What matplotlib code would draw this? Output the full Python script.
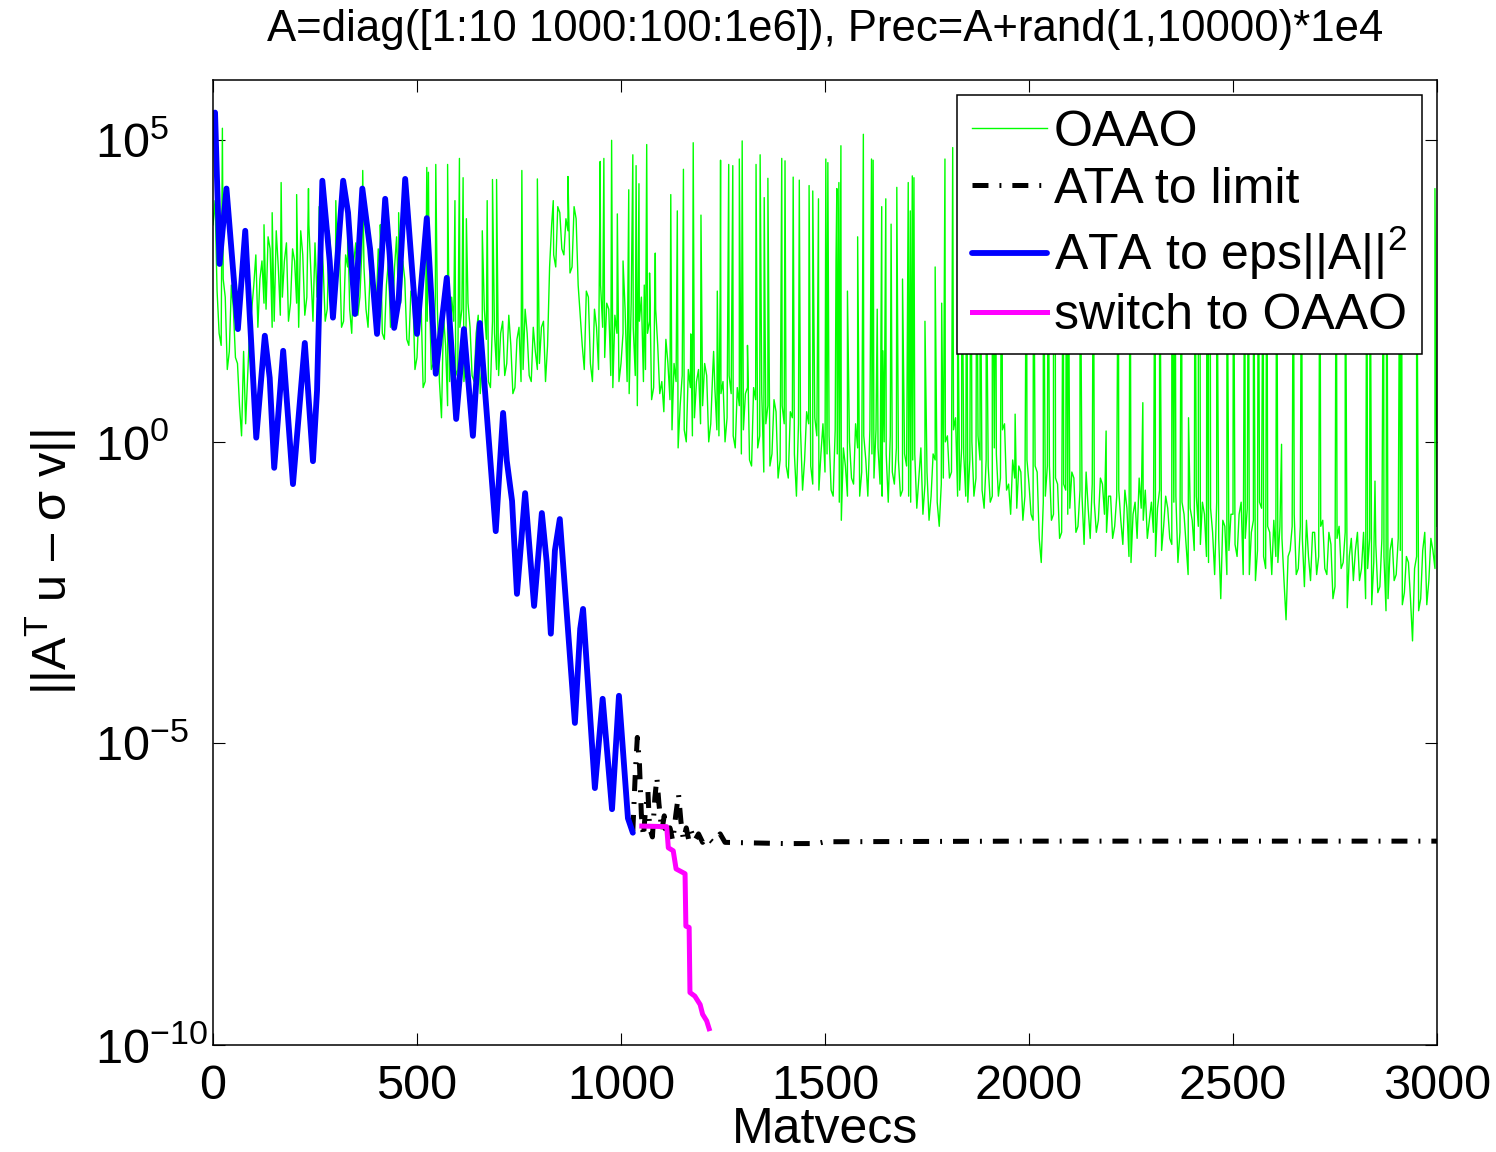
import numpy as np
import matplotlib
matplotlib.use("Agg")
import matplotlib.pyplot as plt

plt.rcParams['font.family'] = ['Liberation Sans', 'DejaVu Sans']
plt.rcParams['mathtext.fontset'] = 'custom'
plt.rcParams['mathtext.rm'] = 'Liberation Sans'
plt.rcParams['mathtext.it'] = 'Liberation Sans:italic'
plt.rcParams['lines.scale_dashes'] = False

# OAAO residual, log10 values read every 10 matvecs (0..3000)
oaao_step = 10
oaao_log = [
    3.6, 2.5, 1.6, 2.4, 1.5, 2.2, 1.3, 0.1, 0.3, 1.9,
    2.6, 1.9, 3.0, 2.2, 3.2, 2.0, 2.9, 2.4, 3.3, 2.3,
    3.0, 1.9, 3.1, 2.4, 2.8, 3.3, 2.5, 2.9, 2.2, 3.0,
    2.3, 3.2, 2.0, 2.9, 1.8, 3.3, 2.4, 2.9, 1.9, 3.1,
    2.2, 2.8, 1.7, 3.0, 2.0, 3.4, 2.3, 2.7, 1.6, 2.4,
    1.4, 2.3, 1.0, 2.6, 1.3, 2.2, 0.4, 1.6, 1.0, 2.0,
    1.2, 2.2, 1.4, 1.9, 1.0, 2.1, 1.3, 1.7, 0.9, 1.8,
    1.1, 2.0, 1.3, 1.6, 0.9, 1.9, 1.2, 1.8, 1.0, 1.5,
    1.3, 2.0, 1.6, 3.6, 2.9, 3.8, 3.1, 3.5, 2.9, 3.7,
    2.1, 1.2, 2.4, 1.0, 1.9, 2.6, 1.4, 2.2, 0.9, 1.8,
    1.3, 2.2, 0.8, 1.9, 0.6, 2.4, 1.2, 2.0, 0.9, 1.6,
    1.0, 1.7, 0.7, 1.3, -0.1, 1.1, 0.0, 0.9, 0.4, 1.2,
    0.6, 1.1, 0.3, 0.9, 0.1, 1.0, 0.4, 0.8, -0.1, 0.6,
    0.2, 0.9, -0.4, 0.7, 0.1, -0.5, 0.6, -0.2, 0.5, -0.3,
    0.3, -0.6, 0.4, -0.9, 0.2, -0.3, 0.3, -0.7, 0.1, -0.2,
    -0.5, 0.1, -0.9, -0.2, -1.3, -0.4, 0.0, -0.7, -0.1, -0.5,
    -0.3, 0.2, -0.6, -0.1, -0.9, -0.2, 0.1, -0.7, -0.3, -0.8,
    -0.4, -1.0, -0.2, -0.6, -1.2, -0.5, -0.9, -0.3, -1.4, -0.6,
    0.1, -0.5, 0.4, -0.8, -0.2, -1.0, 0.0, -0.6, -0.3, -1.1,
    -0.4, -0.9, -0.2, -0.6, 0.3, -0.7, -0.3, -1.1, -0.5, -0.9,
    -0.7, -1.3, -0.5, -2.0, -0.9, -0.4, -1.2, -0.7, -1.5, -0.8,
    -1.1, -0.6, -1.4, -0.9, -0.5, -1.6, -1.0, -1.3, -0.7, -1.5,
    -0.9, -1.4, -0.8, -1.7, -1.1, -2.0, -1.0, -0.6, -1.3, -1.6,
    -1.0, -1.9, -0.8, -1.4, -1.1, -1.7, -0.9, -1.5, -1.2, -2.2,
    -1.3, -0.9, -1.7, -1.2, -2.0, -1.5, -1.0, -2.6, -1.4, -1.8,
    -1.2, -1.9, -1.0, -1.6, -2.2, -1.3, -1.8, -1.1, -2.1, -1.5,
    -1.3, -2.0, -1.6, -2.95, -1.8, -1.2, -2.1, -1.6, -1.3, -2.3,
    -1.5, -1.9, -1.3, -2.2, -1.7, -2.4, -1.4, -2.0, -2.75, -1.6,
    -1.8, -2.3, -1.5, -2.1, -2.7, -1.7, -2.4, -1.9, -2.6, -1.6,
    -2.2, -1.8, -2.5, -2.0, -3.3, -1.9, -2.6, -1.5, -2.3, -1.8,
    -1.4,
]
# OAAO values in between, at 5, 15, 25, ... 2995 matvecs
oaao_log_mid = [
    4.0, 1.8, 2.7, 1.2, 2.6, 1.4, 0.6, 1.5, 1.1, 2.2,
    3.1, 2.7, 2.3, 3.4, 1.9, 3.5, 2.1, 3.0, 2.0, 3.2,
    2.3, 3.5, 2.1, 3.6, 2.0, 2.4, 3.4, 2.0, 3.5, 2.1,
    2.8, 1.9, 3.1, 2.2, 3.0, 2.1, 3.2, 2.2, 2.8, 2.1,
    3.2, 1.8, 2.6, 1.9, 2.9, 2.2, 3.0, 1.7, 2.5, 1.2,
    2.2, 0.9, 2.0, 1.2, 2.4, 1.0, 2.1, 0.6, 2.4, 1.1,
    1.9, 1.0, 2.3, 1.1, 1.8, 0.8, 2.2, 1.0, 2.0, 1.2,
    1.8, 1.1, 2.1, 0.8, 1.7, 1.0, 2.2, 1.1, 1.9, 1.2,
    1.9, 1.0, 2.9, 3.1, 3.9, 3.2, 3.7, 2.8, 3.9, 2.6,
    1.6, 2.5, 1.3, 2.2, 1.2, 1.9, 2.3, 1.1, 2.1, 1.0,
    1.8, 1.0, 2.3, 1.1, 2.0, 1.0, 1.8, 0.7, 2.2, 0.8,
    0.5, 1.3, 0.2, 1.0, 0.6, 0.2, 1.2, 0.1, 1.0, 0.3,
    1.3, 0.0, 1.2, 0.2, 0.8, 0.0, 1.1, 0.1, 0.9, -0.2,
    0.8, -0.3, 0.9, -0.1, 0.8, 0.3, -0.4, 0.7, -0.6, 0.6,
    -0.4, 0.5, -0.2, 0.3, -0.8, 0.5, -0.4, 0.4, -0.8, 0.3,
    -0.2, -0.8, 0.2, -1.0, -0.1, -0.9, -0.6, 0.3, -0.9, 0.1,
    -0.9, -0.2, 0.2, -0.7, 0.0, -1.0, -0.5, -0.1, -0.9, -0.2,
    -0.9, -0.3, -1.1, -0.1, -0.7, -1.3, -0.2, -1.0, -0.7, 0.0,
    -0.6, 0.2, -0.9, -0.1, -0.9, -0.3, -0.9, 0.1, -0.8, -0.3,
    -1.0, -0.1, -0.9, 0.2, -0.8, -1.2, -0.6, -0.4, -1.3, -0.3,
    -1.2, -0.4, -1.6, -1.0, -0.4, -1.3, -0.6, -1.6, -0.7, -1.2,
    -0.5, -1.5, -0.8, -1.7, -1.1, -0.7, -1.5, -0.6, -1.2, -0.9,
    -1.6, -0.9, -1.3, -0.8, -1.9, -1.2, -1.6, -1.1, -0.8, -1.3,
    -1.5, -1.1, -1.8, -0.9, -1.6, -1.0, -2.0, -1.0, -1.7, -1.1,
    -1.8, -1.4, -1.0, -1.9, -1.1, -2.2, -1.6, -1.3, -2.2, -1.2,
    -1.7, -1.2, -2.2, -1.1, -1.5, -2.3, -1.0, -1.9, -1.4, -2.2,
    -1.9, -1.4, -2.3, -1.9, -1.4, -2.2, -1.4, -2.4, -1.9, -1.5,
    -2.2, -1.4, -2.1, -1.5, -2.6, -1.6, -2.1, -1.5, -1.9, -2.3,
    -1.5, -2.1, -2.6, -1.6, -2.0, -2.5, -1.6, -2.8, -1.8, -2.3,
    -1.6, -2.7, -1.9, -2.6, -2.1, -2.8, -1.8, -2.7, -1.6, -2.1,
]

# isolated OAAO spikes (matvec, log10)
spike_mv = [23, 125, 145, 167, 205, 234, 260, 301, 330, 367, 410, 455,
            524, 528, 546, 575, 593, 604, 613, 621, 660, 672, 685, 695,
            757, 795, 834, 870, 949, 958, 977, 991,
            1005, 1019, 1029, 1037, 1044, 1057, 1063, 1070, 1084, 1122,
            1138, 1153, 1171, 1177, 1196, 1227, 1236, 1243, 1244, 1264,
            1274, 1290, 1297, 1310, 1331, 1341, 1351, 1360, 1394, 1402,
            1422, 1437, 1461, 1470, 1484, 1502, 1507, 1527, 1529, 1534,
            1539, 1555, 1580, 1594, 1614, 1618, 1628, 1639, 1642, 1649,
            1662, 1676, 1690, 1704, 1709, 1714, 1718, 1745, 1770, 1786,
            1794, 1813, 1825, 1835, 1847, 1858, 1872, 1880, 1895, 1910,
            1918,
            1933, 1966, 1994, 2011, 2035, 2047, 2060, 2064, 2084, 2092,
            2096, 2125, 2158, 2189, 2219, 2248, 2279, 2309, 2320, 2350,
            2358, 2374, 2391, 2407, 2415, 2419, 2436, 2440, 2444, 2460,
            2485, 2501, 2529, 2538, 2550, 2562, 2574, 2583, 2607, 2619,
            2648, 2668, 2713, 2753, 2775, 2828, 2836, 2848, 2869, 2877,
            2909, 2913, 2950, 2995]
spike_log = [5.2, 3.6, 3.8, 4.3, 4.1, 4.2, 3.9, 4.0, 3.7, 4.5, 3.6, 3.8,
             4.55, 4.47, 4.6, 4.6, 4.0, 4.7, 4.38, 3.7, 3.5, 4.0, 4.35, 4.35,
             4.5, 4.36, 4.0, 4.4, 4.65, 4.7, 5.0, 3.78,
             3.0, 4.18, 4.76, 4.58, 4.28, 2.6, 4.93, 2.8, 3.13, 4.1,
             3.83, 4.52, 1.79, 4.96, 3.76, 1.5, 2.5, 2.45, 4.67, 4.6,
             4.58, 4.69, 4.99, 1.6, 4.6, 4.76, 4.05, 4.37, 4.7, 4.66,
             4.39, 4.34, 4.25, 4.16, 4.03, 4.69, 4.63, 3.0, 4.2, 4.3,
             4.91, 2.5, 3.4, 5.1, 4.69, 4.67, 2.2, 3.9, 1.51, 4.03,
             3.61, 4.22, 2.7, 4.3, 3.83, 4.41, 4.38, 2.0, 2.9, 2.3,
             4.69, 4.88, 3.0, 4.5, 4.4, 4.6, 4.5, 4.3, 3.5, 4.6,
             4.5,
             4.5, 0.46, 4.5, 4.5, 4.5, 4.5, 4.5, 4.5, 4.5, 4.5,
             4.5, 4.5, 4.5, 0.18, 4.5, 4.5, 0.65, 4.5, 4.5, 4.5,
             4.5, 4.5, 0.4, 4.5, 4.5, 4.5, 4.5, 4.5, 4.5, 4.5,
             4.5, 4.5, 4.5, 4.5, 4.5, 4.5, 4.5, 4.5, 4.5, -0.04,
             4.5, 4.5, 4.5, 4.5, 4.5, 4.5, 4.5, -0.65, 4.5, 4.5,
             4.5, 4.5, 4.5, 4.2]

# ATA to eps||A||^2
blue_mv = [5, 16, 33, 61, 79, 106, 127, 139, 150, 172,
           196, 225, 245, 255, 268, 286, 294, 319, 331, 348,
           366, 385, 402, 422, 433, 444, 455, 471, 500, 524,
           546, 573, 596, 615, 637, 654, 693, 711, 720, 733,
           745, 765, 787, 806, 818, 828, 838, 850, 887, 900,
           907, 936, 955, 978, 995, 1017, 1029]
blue_log = [5.46, 2.95, 4.2, 1.87, 3.5, 0.07, 1.76, 1.06, -0.43, 1.51,
            -0.7, 1.64, -0.32, 0.85, 4.33, 3.0, 2.06, 4.33, 3.8, 2.12,
            4.2, 3.2, 1.79, 4.03, 3.1, 1.89, 2.35, 4.36, 1.79, 3.71,
            1.13, 2.72, 0.38, 1.87, 0.1, 1.97, -1.48, 0.48, -0.31, -0.98,
            -2.52, -0.85, -2.72, -1.18, -2.0, -3.18, -1.8, -1.28, -4.66, -3.1,
            -2.77, -5.74, -4.26, -6.09, -4.21, -6.24, -6.48]

# ATA to limit
black_mv = [1029, 1035, 1040, 1045, 1050, 1055, 1060, 1066, 1070, 1077,
            1083, 1088, 1093, 1100, 1106, 1112, 1120, 1127, 1134, 1141,
            1147, 1153, 1160, 1166, 1172, 1180, 1190, 1200, 1210, 1225,
            1243, 1255, 1400, 1480, 1500, 2000, 2500, 3000]
black_log = [-6.45, -5.5, -4.9, -5.3, -6.2, -6.55, -6.1, -5.8, -6.4, -6.55,
             -5.9, -5.57, -6.0, -6.45, -6.2, -6.55, -6.4, -6.62, -6.2, -5.84,
             -6.3, -6.6, -6.4, -6.6, -6.45, -6.62, -6.5, -6.64, -6.55, -6.64,
             -6.5, -6.64, -6.66, -6.66, -6.63, -6.62, -6.62, -6.62]

# switch to OAAO
mag_mv = [1051, 1112, 1116, 1128, 1135, 1157, 1159, 1167, 1169, 1181,
          1194, 1200, 1210, 1216]
mag_log = [-6.37, -6.38, -6.73, -6.78, -7.08, -7.16, -8.03, -8.05, -9.13, -9.19,
           -9.33, -9.49, -9.6, -9.73]

oaao_mv = np.arange(len(oaao_log)) * oaao_step
oaao_mv_mid = np.arange(len(oaao_log_mid)) * oaao_step + oaao_step // 2
gx = np.concatenate([oaao_mv, oaao_mv_mid, spike_mv])
gy = np.concatenate([oaao_log, oaao_log_mid, spike_log])
order = np.argsort(gx, kind='stable')
gx, gy = gx[order], gy[order]

fig = plt.figure(figsize=(14.96, 11.52), dpi=100)
ax = fig.add_axes([213 / 1496, 107 / 1152, 1224 / 1496, 965 / 1152])

ax.semilogy(gx, 10.0 ** gy, color=(0, 1, 0), lw=1.0, label='OAAO')
ax.semilogy(black_mv, 10.0 ** np.array(black_log), color='k', lw=3.6,
            dashes=(11.5, 7.9, 1.4, 7.9), label='ATA to limit')
ax.semilogy(blue_mv, 10.0 ** np.array(blue_log), color=(0, 0, 1), lw=4.2,
            solid_joinstyle='round', solid_capstyle='round',
            label='ATA to eps||A||$^2$')
ax.semilogy(mag_mv, 10.0 ** np.array(mag_log), color=(1, 0, 1), lw=3.6,
            label='switch to OAAO')

ax.set_xlim(0, 3000)
ax.set_ylim(1e-10, 1e6)
ax.set_xticks([0, 500, 1000, 1500, 2000, 2500, 3000])
ax.set_yticks([1e-10, 1e-5, 1e0, 1e5])
ax.minorticks_off()
ax.tick_params(direction='in', length=8.6, width=0.8, top=True, right=True,
               labelsize=35)
ax.tick_params(axis='x', pad=14)
ax.tick_params(axis='y', pad=85)
plt.setp(ax.get_yticklabels(), ha='left')
for s in ax.spines.values():
    s.set_linewidth(1.1)

ax.set_xlabel('Matvecs', fontsize=36)
ax.xaxis.set_label_coords(0.5, -0.064)
ax.set_ylabel('||A$^{\\mathrm{T}}$ u \u2013 \u03c3 v||', fontsize=35)
ax.yaxis.set_label_coords(-0.1095, 0.5)
ax.set_title('A=diag([1:10 1000:100:1e6]), Prec=A+rand(1,10000)*1e4',
             fontsize=31.5, pad=28)

leg = ax.legend(loc='upper right', bbox_to_anchor=(0.9877, 0.9845),
                borderaxespad=0, fontsize=36, fancybox=False, framealpha=1,
                edgecolor='k', handlelength=1.49, handletextpad=0.14,
                labelspacing=0.22, borderpad=0.3)
leg.get_frame().set_linewidth(1.1)

fig.savefig('out.png', dpi=100)
